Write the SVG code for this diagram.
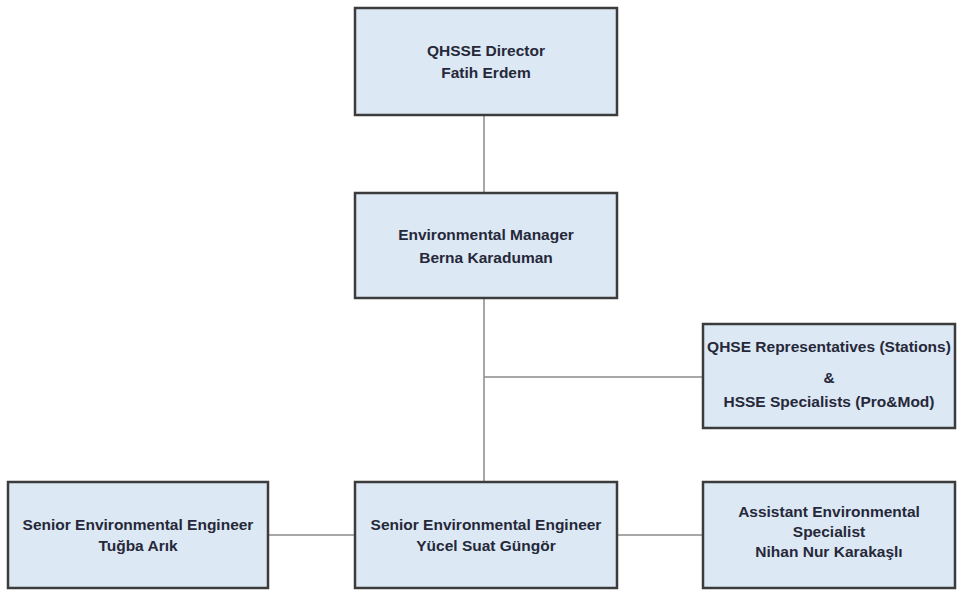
<svg xmlns="http://www.w3.org/2000/svg" width="958" height="590" viewBox="0 0 958 590">
<style>
.box{fill:#dce8f4;stroke:#3c3c3c;stroke-width:2.5}
.t{font-family:"Liberation Sans",Arial,sans-serif;font-weight:bold;font-size:15.5px;fill:#26283a;text-anchor:middle}
.c{stroke:#8a8a8a;stroke-width:1.5;fill:none}
</style>
<rect width="958" height="590" fill="#ffffff"/>
<g id="connectors">
<line class="c" x1="484" y1="115" x2="484" y2="193"/>
<line class="c" x1="484" y1="298" x2="484" y2="482"/>
<line class="c" x1="484" y1="377" x2="703" y2="377"/>
<line class="c" x1="268" y1="535" x2="355" y2="535"/>
<line class="c" x1="617" y1="535" x2="703" y2="535"/>
</g>
<g id="director">
<rect class="box" x="355" y="8" width="262" height="107"/>
<text class="t" x="486" y="56">QHSSE Director</text>
<text class="t" x="486" y="78">Fatih Erdem</text>
</g>
<g id="env-manager">
<rect class="box" x="355" y="193" width="262" height="105"/>
<text class="t" x="486" y="240">Environmental Manager</text>
<text class="t" x="486" y="263">Berna Karaduman</text>
</g>
<g id="qhse-reps">
<rect class="box" x="703" y="324" width="252" height="104"/>
<text class="t" x="829" y="352">QHSE Representatives (Stations)</text>
<text class="t" x="829" y="383">&amp;</text>
<text class="t" x="829" y="407">HSSE Specialists (Pro&amp;Mod)</text>
</g>
<g id="senior-tugba">
<rect class="box" x="8" y="482" width="260" height="106"/>
<text class="t" x="138" y="530">Senior Environmental Engineer</text>
<text class="t" x="138" y="551">Tuğba Arık</text>
</g>
<g id="senior-yucel">
<rect class="box" x="355" y="482" width="262" height="106"/>
<text class="t" x="486" y="530">Senior Environmental Engineer</text>
<text class="t" x="486" y="551">Yücel Suat Güngör</text>
</g>
<g id="assistant">
<rect class="box" x="703" y="482" width="252" height="106"/>
<text class="t" x="829" y="517">Assistant Environmental</text>
<text class="t" x="829" y="537">Specialist</text>
<text class="t" x="829" y="557">Nihan Nur Karakaşlı</text>
</g>
</svg>
